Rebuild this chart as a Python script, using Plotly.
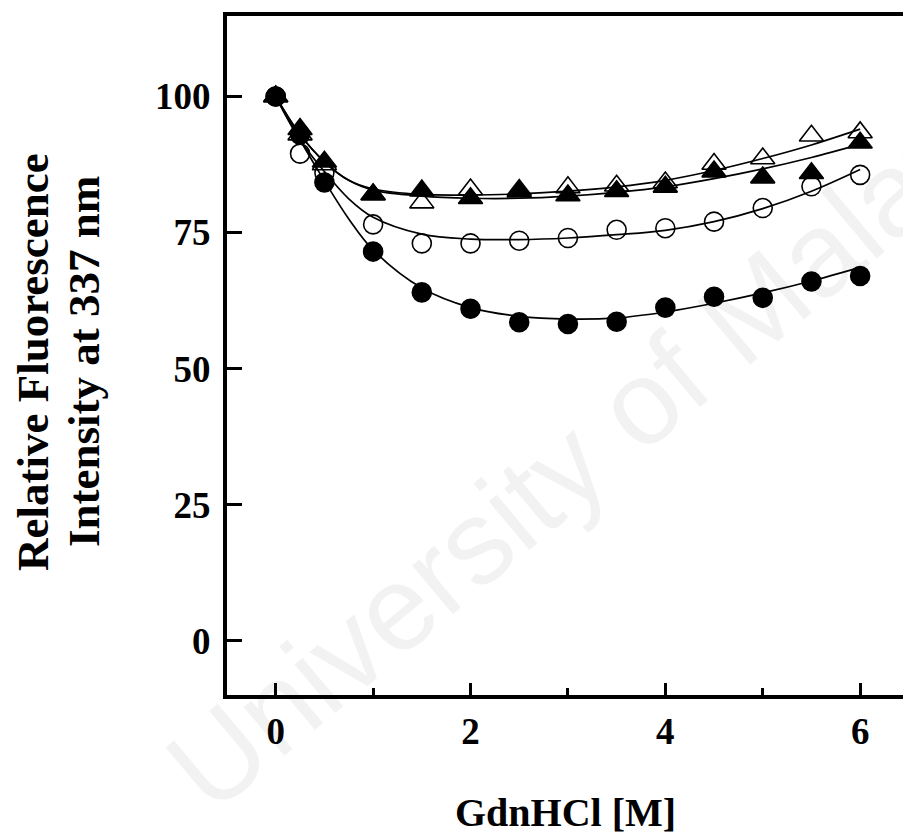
import plotly.graph_objects as go

# Data points
x_pts = [0, 0.25, 0.5, 1, 1.5, 2, 2.5, 3, 3.5, 4, 4.5, 5, 5.5, 6]
filled_circle = [100, 93, 84.2, 71.5, 64.0, 61.0, 58.5, 58.2, 58.6, 61.2, 63.2, 63.0, 66.0, 67.0]
open_circle = [100, 89.5, 86.0, 76.5, 73.0, 73.0, 73.5, 74.0, 75.5, 75.8, 77.0, 79.5, 83.5, 85.6]
open_triangle = [100, 93.0, 87.5, 82.0, 80.5, 82.9, 82.8, 83.3, 83.6, 84.2, 87.6, 88.6, 92.8, 93.4]
filled_triangle = [100, 94.0, 88.0, 82.0, 82.7, 81.3, 82.5, 81.8, 82.6, 83.4, 86.2, 85.1, 85.9, 91.5]

# Fitted curves
x_fit = [0, 0.25, 0.5, 0.75, 1, 1.5, 2, 2.5, 3, 3.5, 4, 4.5, 5, 5.5, 6]
fit_filled_circle = [100, 92, 84.5, 77.5, 71.8, 64.8, 61.2, 59.6, 59.1, 59.3, 60.4, 62.0, 63.9, 66.1, 68.6]
fit_open_circle = [100, 92, 86.2, 81.2, 77.8, 74.7, 73.8, 73.7, 74.0, 74.6, 75.4, 77.0, 79.4, 82.6, 86.6]
fit_open_triangle = [100, 93, 88.0, 84.6, 83.0, 82.0, 81.9, 82.1, 82.6, 83.4, 84.6, 86.4, 88.6, 91.1, 94.0]
fit_filled_triangle = [100, 93, 88.0, 84.6, 82.8, 81.7, 81.3, 81.3, 81.7, 82.4, 83.4, 84.9, 86.7, 88.8, 91.2]

x_ticks = [0, 2, 4, 6]
x_minor = [1, 3, 5]
y_ticks = [0, 25, 50, 75, 100]

FONT = "Liberation Serif"
L, R, T, B = 227, 0, 16, 139
W, H = 903, 834
PW = W - L - R
PH = H - T - B

fig = go.Figure()

for fy in [fit_filled_circle, fit_open_circle, fit_open_triangle, fit_filled_triangle]:
    fig.add_trace(go.Scatter(x=x_fit, y=fy, mode="lines",
                             line=dict(color="black", width=1.7, shape="spline", smoothing=1.0),
                             showlegend=False, hoverinfo="skip"))

series = [
    (open_circle, "circle-open", 19),
    (filled_circle, "circle", 19),
    (open_triangle, "triangle-up-open", 21),
    (filled_triangle, "triangle-up", 21),
]
for ys, sym, sz in series:
    fig.add_trace(go.Scatter(x=x_pts, y=ys, mode="markers",
                             marker=dict(symbol=sym, size=sz, color="black",
                                         line=dict(color="black", width=1.6)),
                             showlegend=False))

fig.update_layout(
    width=W, height=H,
    margin=dict(l=L, r=R, t=T, b=B),
    paper_bgcolor="white", plot_bgcolor="white",
    font=dict(family=FONT, color="black"),
    xaxis=dict(range=[-0.5, 6.44], tickvals=x_ticks, ticks="inside", ticklen=12,
               tickwidth=3, tickcolor="black", showline=True, linewidth=4, linecolor="black",
               mirror=True, showgrid=False, zeroline=False, ticklabelstandoff=1,
               tickfont=dict(family=FONT, size=37, color="black", weight="bold"),
               minor=dict(tickvals=x_minor, ticks="inside", ticklen=7, tickwidth=3, tickcolor="black")),
    yaxis=dict(range=[-10.0, 114.8], tickvals=y_ticks, ticks="inside", ticklen=15,
               tickwidth=3, tickcolor="black", showline=True, linewidth=4, linecolor="black",
               mirror=False, showgrid=False, zeroline=False, ticklabelstandoff=5,
               tickfont=dict(family=FONT, size=37, color="black", weight="bold")),
)

# y-axis title (two lines)
for txt, px in [("Relative Fluorescence", 33), ("Intensity at 337 nm", 84)]:
    fig.add_annotation(text="<b>%s</b>" % txt, xref="paper", yref="paper",
                       x=(px - L) / PW, y=(H - B - 362) / PH,
                       xanchor="center", yanchor="middle", textangle=-90, showarrow=False,
                       font=dict(family=FONT, size=45, color="black"))

# x-axis title
fig.add_annotation(text="<b>GdnHCl [M]</b>", xref="paper", yref="paper",
                   x=0.5, y=(H - B - 812) / PH, xanchor="center", yanchor="middle",
                   showarrow=False, font=dict(family=FONT, size=40, color="black"))

fig.add_annotation(text="University of Malaya", xref="paper", yref="paper",
                   x=0.55, y=0.38, textangle=-40, showarrow=False,
                   font=dict(family="Liberation Sans", size=120, color="rgba(0,0,0,0.05)"))

fig.write_html("out.html")
